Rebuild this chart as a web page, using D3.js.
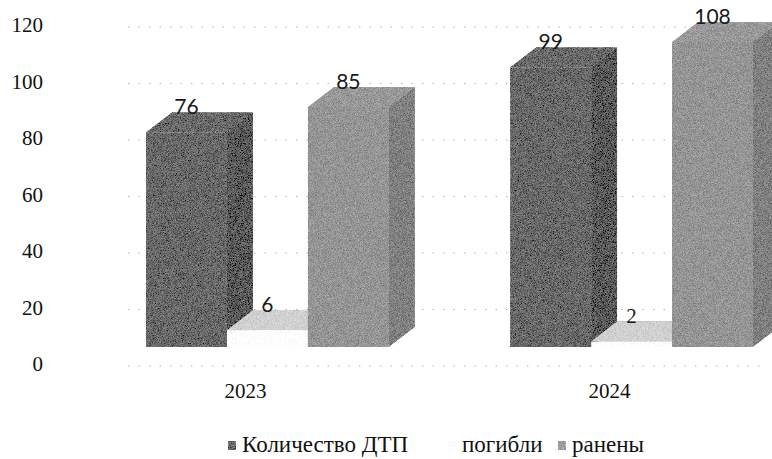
<!DOCTYPE html>
<html><head><meta charset="utf-8">
<script src="https://cdn.jsdelivr.net/npm/d3@7"></script>
<style>
html,body{margin:0;padding:0;background:#fff;}
svg{display:block;}
</style>
</head><body>
<svg id="chart" width="772" height="459"></svg>
<script>
const years = ["2023", "2024"];
const seriesNames = ["Количество ДТП", "погибли", "ранены"];
const dtp = [76, 99];
const killed = [6, 2];
const injured = [85, 108];
const yTicks = [0, 20, 40, 60, 80, 100, 120];

const SERIF = "'Liberation Serif', 'Times New Roman', serif";
const SANS = "Lato, 'Open Sans', 'Liberation Sans', sans-serif";

const seriesValues = [dtp, killed, injured];
const faceColors = [
  {front: "#686868", top: "#6a6a6a", side: "#585858", legend: "#6c6c6c"},
  {front: "#ffffff", top: "#d0d0d0", side: "#e8e8e8", legend: "#ffffff"},
  {front: "#959595", top: "#999999", side: "#808080", legend: "#a0a0a0"}
];

const svg = d3.select("#chart");
const defs = svg.append("defs");
const f = defs.append("filter").attr("id", "grain").attr("x", 0).attr("y", 0).attr("width", 1).attr("height", 1);
f.append("feTurbulence").attr("type", "fractalNoise").attr("baseFrequency", 1.4).attr("numOctaves", 1).attr("seed", 3).attr("result", "noise");
f.append("feColorMatrix").attr("in", "noise").attr("type", "matrix")
  .attr("values", "0 0 0 1 0  0 0 0 1 0  0 0 0 1 0  0 0 0 0 1").attr("result", "gray");
f.append("feComposite").attr("in", "SourceGraphic").attr("in2", "gray").attr("operator", "arithmetic")
  .attr("k1", 0).attr("k2", 1).attr("k3", 0.5).attr("k4", -0.25).attr("result", "mix");
f.append("feComposite").attr("in", "mix").attr("in2", "SourceGraphic").attr("operator", "in");

const depthX = 26, depthY = -20;
const baseY = 347;

const yFront = d3.scaleLinear().domain([0, 120]).range([baseY, baseY - 120 * 2.825]);
const yWall = d3.scaleLinear().domain([0, 120]).range([366, 27]);

const x = d3.scaleBand().domain(years).range([146, 753]).paddingInner(1/3).paddingOuter(0);
const xs = d3.scaleBand().domain(d3.range(seriesNames.length)).range([0, x.bandwidth()]);

// gridlines
svg.append("g").selectAll("line").data(yTicks).join("line")
  .attr("x1", 128).attr("x2", 766)
  .attr("y1", d => yWall(d)).attr("y2", d => yWall(d))
  .attr("stroke", "#b4b4b4").attr("stroke-width", 1).attr("stroke-dasharray", "1.5,9");

// y axis labels
const yAxis = d3.axisLeft(yWall).tickValues(yTicks).tickSize(0).tickPadding(0);
const gy = svg.append("g").attr("transform", "translate(43,4.5)").call(yAxis)
  .attr("font-family", SERIF).attr("font-size", 21);
gy.select(".domain").remove();
gy.selectAll("text").attr("font-family", SERIF).style("font-family", SERIF).style("font-size", "21px")
  .attr("fill", "#111").attr("dy", null);

// bars
const bars = svg.append("g");
years.forEach((yr, gi) => {
  seriesValues.forEach((vals, si) => {
    const v = vals[gi];
    const x0 = x(yr) + xs(si), x1 = x0 + xs.bandwidth();
    const yt = yFront(v), yb = yFront(0);
    const c = faceColors[si];
    const g = bars.append("g").attr("filter", "url(#grain)");
    g.append("rect").attr("x", x0).attr("y", yt).attr("width", x1 - x0).attr("height", yb - yt).attr("fill", c.front);
    g.append("polygon").attr("points", [[x0, yt], [x0 + depthX, yt + depthY], [x1 + depthX, yt + depthY], [x1, yt]].map(p => p.join(",")).join(" ")).attr("fill", c.top);
    g.append("polygon").attr("points", [[x1, yt], [x1 + depthX, yt + depthY], [x1 + depthX, yb + depthY], [x1, yb]].map(p => p.join(",")).join(" ")).attr("fill", c.side);
  });
});

// data labels
years.forEach((yr, gi) => {
  seriesValues.forEach((vals, si) => {
    const v = vals[gi];
    const cx = x(yr) + xs(si) + xs.bandwidth() / 2;
    const fam = si === 1 && gi === 1 ? SERIF : SANS;
    svg.append("text").attr("x", cx).attr("y", yFront(v) + depthY + 2)
      .attr("text-anchor", "middle")
      .style("font-family", fam)
      .style("font-size", "21px").attr("fill", "#1a1a1a").text(v);
  });
});

// category labels
svg.append("g").selectAll("text").data(years).join("text")
  .attr("x", d => x(d) + x.bandwidth() / 2 - 22).attr("y", 398)
  .attr("text-anchor", "middle").style("font-family", SERIF)
  .style("font-size", "21px").attr("fill", "#111").text(d => d);

// legend
const legendX = [228, 448, 558];
const lg = svg.append("g");
seriesNames.forEach((name, i) => {
  lg.append("rect").attr("x", legendX[i]).attr("y", 441).attr("width", 8).attr("height", 9)
    .attr("fill", faceColors[i].legend).attr("filter", "url(#grain)");
  lg.append("text").attr("x", legendX[i] + 14).attr("y", 452).style("font-family", SERIF)
    .style("font-size", "23px").attr("fill", "#111").text(name);
});
</script>
</body></html>
